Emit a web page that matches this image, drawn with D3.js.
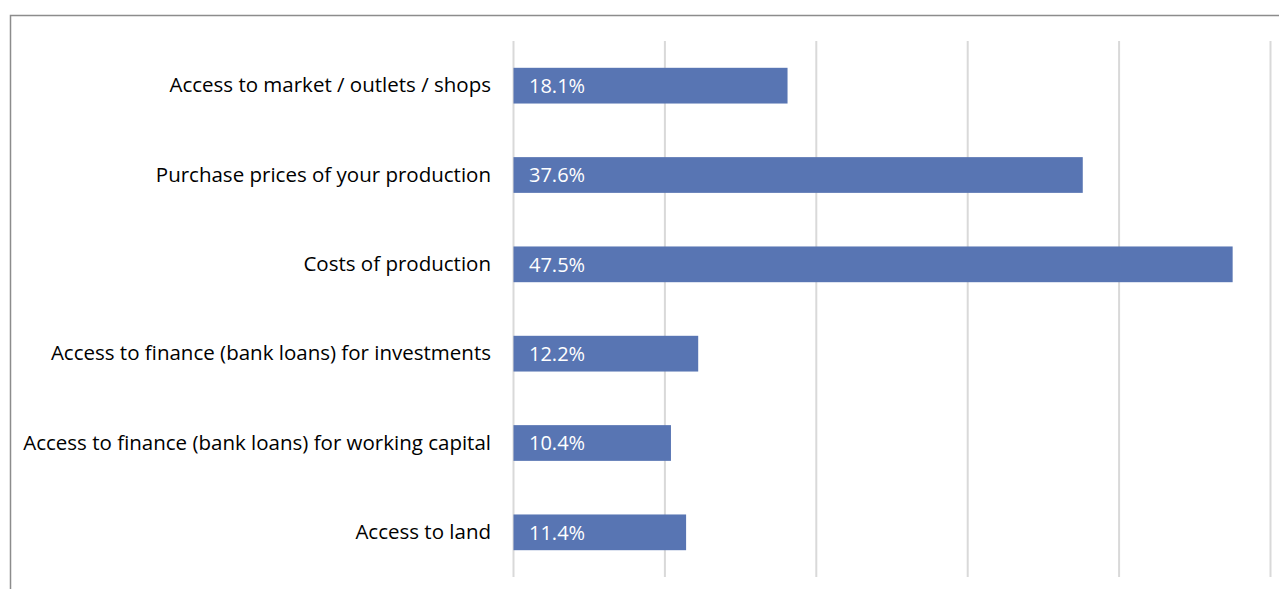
<!DOCTYPE html>
<html>
<head>
<meta charset="utf-8">
<script src="https://cdn.jsdelivr.net/npm/d3@7"></script>
<style>
  html, body { margin: 0; padding: 0; background: #fff; }
  svg { display: block; }
</style>
</head>
<body>
<svg id="chart" width="1279" height="589"></svg>
<script>
const categories = [
  "Access to market / outlets / shops",
  "Purchase prices of your production",
  "Costs of production",
  "Access to finance (bank loans) for investments",
  "Access to finance (bank loans) for working capital",
  "Access to land"
];
const values = [18.1, 37.6, 47.5, 12.2, 10.4, 11.4];
const gridTicks = [0, 10, 20, 30, 40, 50];

const svg = d3.select("#chart");
const W = 1279, H = 589;
const font = "'Open Sans', Lato, sans-serif";

// Frame around the chart area
svg.append("rect")
  .attr("x", 10.5).attr("y", 15.5)
  .attr("width", W + 20).attr("height", H + 20)
  .attr("fill", "#fff")
  .attr("stroke", "#8c8c8c")
  .attr("stroke-width", 1.5);

const x = d3.scaleLinear().domain([0, 50]).range([513.5, 1270.5]);
const y = d3.scaleBand().domain(categories).range([41, 577]).paddingInner(0.6).paddingOuter(0.3);

// Vertical gridlines
svg.append("g")
  .selectAll("line")
  .data(gridTicks)
  .join("line")
  .attr("x1", d => x(d)).attr("x2", d => x(d))
  .attr("y1", 41).attr("y2", 577)
  .attr("stroke", "#d9d9d9")
  .attr("stroke-width", 2);

// Bars
svg.append("g")
  .selectAll("rect")
  .data(values)
  .join("rect")
  .attr("x", x(0))
  .attr("y", (d, i) => y(categories[i]))
  .attr("width", d => x(d) - x(0))
  .attr("height", y.bandwidth())
  .attr("fill", "#5875b3");

// Value labels inside bars
svg.append("g")
  .selectAll("text")
  .data(values)
  .join("text")
  .attr("x", x(0) + 15.5)
  .attr("y", (d, i) => y(categories[i]) + y.bandwidth() / 2)
  .attr("dy", "0.36em")
  .attr("fill", "#fff")
  .attr("font-family", font)
  .attr("font-size", 20)
  .text(d => d.toFixed(1) + "%");

// Category axis labels
svg.append("g")
  .selectAll("text")
  .data(categories)
  .join("text")
  .attr("x", 491)
  .attr("y", d => y(d) + y.bandwidth() / 2)
  .attr("dy", "0.33em")
  .attr("text-anchor", "end")
  .attr("fill", "#000")
  .attr("font-family", font)
  .attr("font-size", 20.5)
  .text(d => d);
</script>
</body>
</html>
